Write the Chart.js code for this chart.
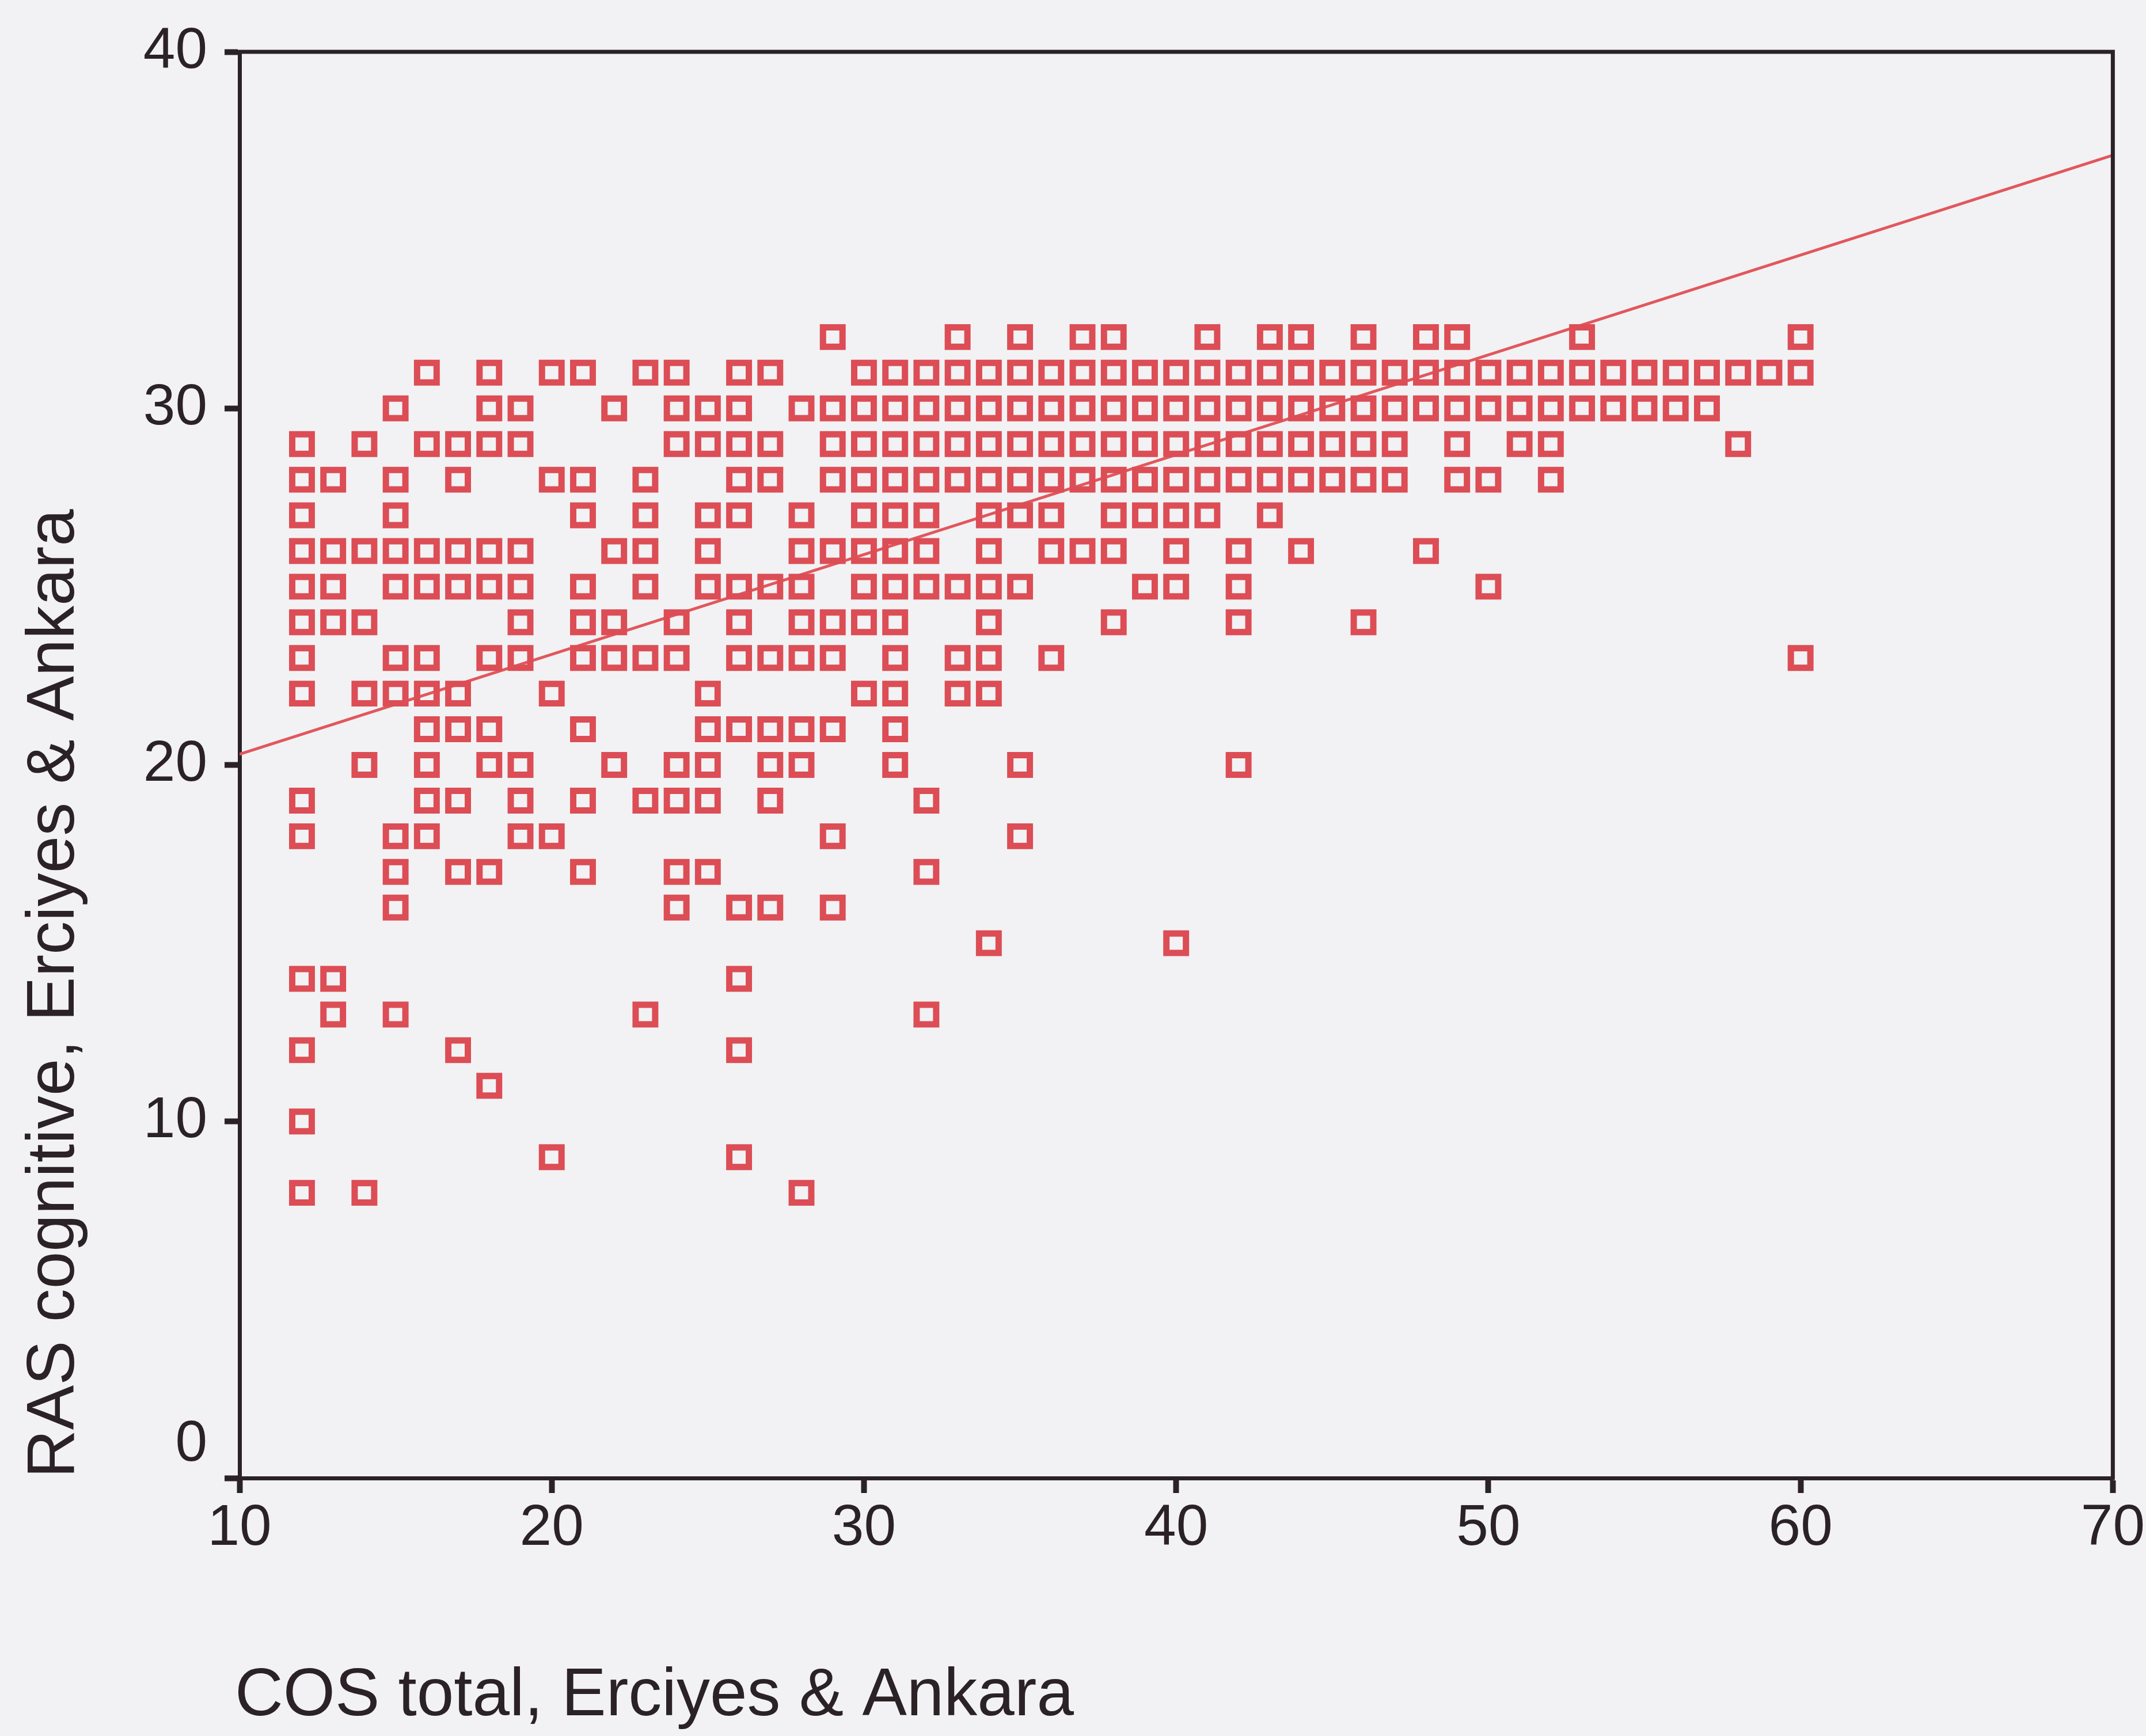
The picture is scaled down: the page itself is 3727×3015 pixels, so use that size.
<!DOCTYPE html>
<html>
<head>
<meta charset="utf-8">
<script src="https://cdn.jsdelivr.net/npm/chart.js@4.4.1/dist/chart.umd.min.js"></script>
<style>
  html, body { margin: 0; padding: 0; background: #f2f2f4; }
  canvas { display: block; }
</style>
</head>
<body>
<canvas id="c" width="3727" height="3015"></canvas>
<script>
// ---- Data: COS total (x) values observed at each RAS cognitive (y) level ----
const ras32 = [29, 33, 35, 37, 38, 41, 43, 44, 46, 48, 49, 53, 60];
const ras31 = [16, 18, 20, 21, 23, 24, 26, 27, 30, 31, 32, 33, 34, 35, 36, 37, 38, 39, 40, 41, 42, 43, 44, 45, 46, 47, 48, 49, 50, 51, 52, 53, 54, 55, 56, 57, 58, 59, 60];
const ras30 = [15, 18, 19, 22, 24, 25, 26, 28, 29, 30, 31, 32, 33, 34, 35, 36, 37, 38, 39, 40, 41, 42, 43, 44, 45, 46, 47, 48, 49, 50, 51, 52, 53, 54, 55, 56, 57];
const ras29 = [12, 14, 16, 17, 18, 19, 24, 25, 26, 27, 29, 30, 31, 32, 33, 34, 35, 36, 37, 38, 39, 40, 41, 42, 43, 44, 45, 46, 47, 49, 51, 52, 58];
const ras28 = [12, 13, 15, 17, 20, 21, 23, 26, 27, 29, 30, 31, 32, 33, 34, 35, 36, 37, 38, 39, 40, 41, 42, 43, 44, 45, 46, 47, 49, 50, 52];
const ras27 = [12, 15, 21, 23, 25, 26, 28, 30, 31, 32, 34, 35, 36, 38, 39, 40, 41, 43];
const ras26 = [12, 13, 14, 15, 16, 17, 18, 19, 22, 23, 25, 28, 29, 30, 31, 32, 34, 36, 37, 38, 40, 42, 44, 48];
const ras25 = [12, 13, 15, 16, 17, 18, 19, 21, 23, 25, 26, 27, 28, 30, 31, 32, 33, 34, 35, 39, 40, 42, 50];
const ras24 = [12, 13, 14, 19, 21, 22, 24, 26, 28, 29, 30, 31, 34, 38, 42, 46];
const ras23 = [12, 15, 16, 18, 19, 21, 22, 23, 24, 26, 27, 28, 29, 31, 33, 34, 36, 60];
const ras22 = [12, 14, 15, 16, 17, 20, 25, 30, 31, 33, 34];
const ras21 = [16, 17, 18, 21, 25, 26, 27, 28, 29, 31];
const ras20 = [14, 16, 18, 19, 22, 24, 25, 27, 28, 31, 35, 42];
const ras19 = [12, 16, 17, 19, 21, 23, 24, 25, 27, 32];
const ras18 = [12, 15, 16, 19, 20, 29, 35];
const ras17 = [15, 17, 18, 21, 24, 25, 32];
const ras16 = [15, 24, 26, 27, 29];
const ras15 = [34, 40];
const ras14 = [12, 13, 26];
const ras13 = [13, 15, 23, 32];
const ras12 = [12, 17, 26];
const ras11 = [18];
const ras10 = [12];
const ras9  = [20, 26];
const ras8  = [12, 14, 28];

const rasLevels = [32, 31, 30, 29, 28, 27, 26, 25, 24, 23, 22, 21, 20, 19, 18, 17, 16, 15, 14, 13, 12, 11, 10, 9, 8];
const cosByLevel = [ras32, ras31, ras30, ras29, ras28, ras27, ras26, ras25, ras24, ras23, ras22, ras21, ras20, ras19, ras18, ras17, ras16, ras15, ras14, ras13, ras12, ras11, ras10, ras9, ras8];

// Fit line (linear regression) end points
const fitX = [10, 70];
const fitY = [20.3, 37.1];

// Axis ticks
const xTicks = [10, 20, 30, 40, 50, 60, 70];
const yTicks = [0, 10, 20, 30, 40];

const xTitle = 'COS total, Erciyes & Ankara';
const yTitle = 'RAS cognitive, Erciyes & Ankara';

// ---- Build datasets ----
const points = [];
rasLevels.forEach((lvl, i) => {
  cosByLevel[i].forEach(x => points.push({ x: x, y: lvl }));
});
const fitLine = fitX.map((x, i) => ({ x: x, y: fitY[i] }));

const INK = '#2b2226';
const RED = '#dc4d55';
const FONT = "'Liberation Sans', Arial, sans-serif";
const TICK_LEN = 26;
const Y_TICK_PAD = 30;
const TICK_FONT = 100;
const TITLE_FONT = 116;

const framePlugin = {
  id: 'frame',
  afterDraw(chart) {
    const { ctx, chartArea: a } = chart;
    ctx.save();
    ctx.strokeStyle = INK;
    ctx.lineWidth = 7;
    ctx.lineCap = 'square';
    ctx.beginPath();
    ctx.moveTo(a.left, a.top);
    ctx.lineTo(a.right, a.top);
    ctx.lineTo(a.right, a.bottom);
    ctx.stroke();
    // the "0" y tick label sits raised above the x axis in the original
    const ys = chart.scales.y;
    ctx.fillStyle = INK;
    ctx.font = TICK_FONT + 'px ' + FONT;
    ctx.textAlign = 'right';
    ctx.textBaseline = 'middle';
    ctx.fillText(String(yTicks[0]), ys.right - TICK_LEN - Y_TICK_PAD, ys.getPixelForValue(yTicks[0]) - 58);
    // x axis title, left-aligned well below the tick labels
    ctx.font = TITLE_FONT + 'px ' + FONT;
    ctx.textAlign = 'left';
    ctx.textBaseline = 'alphabetic';
    ctx.fillText(xTitle, a.left - 8, a.bottom + 412);
    ctx.restore();
  }
};

new Chart(document.getElementById('c'), {
  type: 'scatter',
  data: {
    datasets: [
      {
        type: 'line',
        data: fitLine,
        borderColor: '#e2575c',
        borderWidth: 5,
        pointRadius: 0,
        fill: false,
        tension: 0,
        order: 2
      },
      {
        type: 'scatter',
        data: points,
        pointStyle: 'rect',
        pointRadius: 24,
        pointBorderWidth: 11,
        pointBackgroundColor: 'rgba(0,0,0,0)',
        pointBorderColor: RED,
        pointHoverRadius: 24,
        order: 1
      }
    ]
  },
  plugins: [framePlugin],
  options: {
    responsive: false,
    devicePixelRatio: 1,
    animation: false,
    events: [],
    layout: { padding: { top: 79, right: 57, left: 0, bottom: 0 } },
    plugins: { legend: { display: false }, tooltip: { enabled: false } },
    scales: {
      x: {
        type: 'linear',
        min: xTicks[0],
        max: xTicks[xTicks.length - 1],
        afterBuildTicks: s => { s.ticks = xTicks.map(v => ({ value: v })); },
        afterFit: s => { s.height = 448; },
        border: { display: true, color: INK, width: 7 },
        grid: { display: true, drawOnChartArea: false, drawTicks: true, tickLength: TICK_LEN, tickWidth: 10, tickColor: INK },
        ticks: { color: INK, font: { family: FONT, size: TICK_FONT }, padding: 2, maxRotation: 0 },
        title: { display: false, text: xTitle }
      },
      y: {
        type: 'linear',
        min: yTicks[0],
        max: yTicks[yTicks.length - 1],
        afterBuildTicks: s => { s.ticks = yTicks.map(v => ({ value: v })); },
        afterFit: s => { s.width = 416; },
        border: { display: true, color: INK, width: 7 },
        grid: { display: true, drawOnChartArea: false, drawTicks: true, tickLength: TICK_LEN, tickWidth: 10, tickColor: INK },
        ticks: {
          color: c => (c.tick && c.tick.value === yTicks[0]) ? 'rgba(0,0,0,0)' : INK,
          font: { family: FONT, size: TICK_FONT },
          padding: Y_TICK_PAD
        },
        title: { display: true, text: yTitle, align: 'start', color: INK, font: { family: FONT, size: TITLE_FONT, lineHeight: 1.2 }, padding: { top: 26, bottom: 0 } }
      }
    }
  }
});
</script>
</body>
</html>
